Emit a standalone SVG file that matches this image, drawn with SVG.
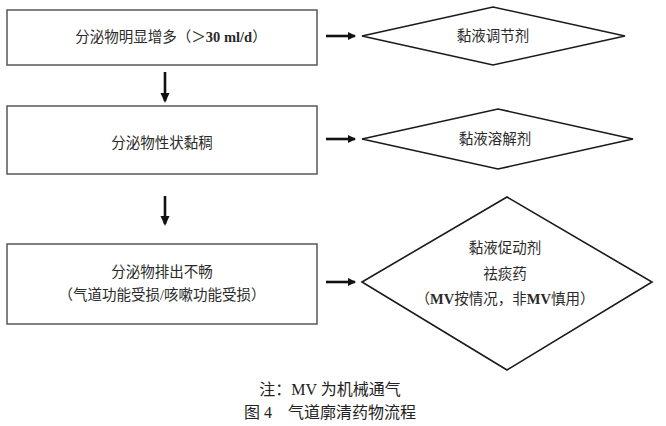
<svg xmlns="http://www.w3.org/2000/svg" width="666" height="426" viewBox="0 0 666 426">
<defs>
<style>
.box{fill:#fff;stroke:#5a5656;stroke-width:1.5}
.dia{fill:#fff;stroke:#1a1a1a;stroke-width:1.6}
.t{font-family:"Liberation Serif","Noto Sans CJK SC",serif;font-size:14.5px;fill:#2a2a2a;text-anchor:middle}
.b{font-weight:bold}
.c{stroke:#111;stroke-width:2.6;fill:none}
.f{font-family:"Liberation Serif","Noto Sans CJK SC",serif;font-size:16px;fill:#222;text-anchor:middle}
</style>
<marker id="ah" markerWidth="10" markerHeight="10" refX="7" refY="5" orient="auto" markerUnits="userSpaceOnUse" viewBox="0 0 10 10">
<path d="M0,1 L8,5 L0,9 z" fill="#111"/>
</marker>
<marker id="av" markerWidth="12" markerHeight="12" refX="8" refY="6" orient="auto" markerUnits="userSpaceOnUse" viewBox="0 0 12 12">
<path d="M0,1.5 L10,6 L0,10.5 z" fill="#111"/>
</marker>
</defs>
<rect width="666" height="426" fill="#fff"/>
<g id="connectors">
<line class="c" x1="165" y1="72" x2="165" y2="101" marker-end="url(#av)"/>
<line class="c" x1="165" y1="196" x2="165" y2="224" marker-end="url(#av)"/>
<line class="c" x1="326" y1="36" x2="355" y2="36" marker-end="url(#ah)"/>
<line class="c" x1="326" y1="139" x2="355" y2="139" marker-end="url(#ah)"/>
<line class="c" x1="326" y1="282" x2="355" y2="282" marker-end="url(#ah)"/>
</g>
<g id="box1">
<rect class="box" x="7" y="10" width="310" height="55"/>
<text class="t" x="171" y="42">分泌物明显增多（＞<tspan class="b">30 ml/d</tspan>）</text>
</g>
<g id="box2">
<rect class="box" x="7" y="106" width="310" height="68"/>
<text class="t" x="162" y="148">分泌物性状黏稠</text>
</g>
<g id="box3">
<rect class="box" x="7" y="244" width="310" height="80"/>
<text class="t" x="162" y="277">分泌物排出不畅</text>
<text class="t" x="162" y="300">（气道功能受损/咳嗽功能受损）</text>
</g>
<g id="dia1">
<polygon class="dia" points="362,36 493,7 625,36 493,65"/>
<text class="t" x="493" y="41">黏液调节剂</text>
</g>
<g id="dia2">
<polygon class="dia" points="362,139 498,109 633,139 498,169"/>
<text class="t" x="495" y="144">黏液溶解剂</text>
</g>
<g id="dia3">
<polygon class="dia" points="362,282 507,197 652,282 507,370"/>
<text class="t" x="505" y="253">黏液促动剂</text>
<text class="t" x="505" y="279">祛痰药</text>
<text class="t" x="505" y="304">（<tspan class="b">MV</tspan>按情况，非<tspan class="b">MV</tspan>慎用）</text>
</g>
<g id="caption">
<text class="f" x="330" y="395">注：MV 为机械通气</text>
<text class="f" x="330" y="418">图 4　气道廓清药物流程</text>
</g>
</svg>
